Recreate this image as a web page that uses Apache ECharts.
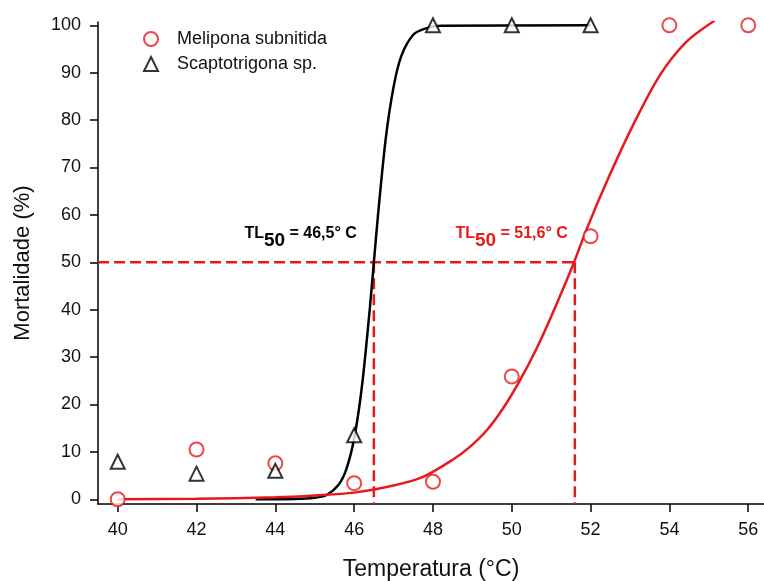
<!DOCTYPE html>
<html><head><meta charset="utf-8">
<script src="https://cdn.jsdelivr.net/npm/echarts@6/dist/echarts.min.js"></script>
<style>html,body{margin:0;padding:0;background:#fff}#c{width:764px;height:581px}</style>
</head><body><div id="c"></div>
<script>
// Observed data
const temps = [40, 42, 44, 46, 48, 50, 52, 54, 56];
const meliponaMort = [0, 10.5, 7.6, 3.4, 3.7, 25.9, 55.5, 100, 100];
const scaptoTemps = [40, 42, 44, 46, 48, 50, 52];
const scaptoMort = [7.9, 5.4, 6.0, 13.5, 100, 100, 100];
// Fitted curves
const scaptoCurveX = [43.5, 44.5, 45, 45.3, 45.6, 45.8, 46, 46.2, 46.4, 46.5, 46.6, 46.8, 47, 47.2, 47.5, 47.8, 48.2, 52];
const scaptoCurveY = [0, 0.05, 0.3, 0.9, 3, 6.3, 12.8, 24, 40.5, 50, 59.5, 76, 87, 93.6, 98, 99.3, 99.9, 100];
const meliCurveX = [40, 42, 44, 45, 46, 47, 47.72, 48.51, 48.93, 49.36, 49.78, 50.2, 50.63, 51.05, 51.56, 51.9, 52.49, 53.08, 53.76, 54.43, 55.15];
const meliCurveY = [0, 0.1, 0.4, 0.8, 1.4, 2.9, 4.6, 8.4, 11.0, 14.5, 19.2, 25.0, 31.8, 39.5, 49.6, 57.0, 68.5, 79, 89.5, 96.5, 101];
const tl50 = [46.5, 51.6];
const xTicks = [40, 42, 44, 46, 48, 50, 52, 54, 56];
const yTicks = [0, 10, 20, 30, 40, 50, 60, 70, 80, 90, 100];
const seriesNames = ['Melipona subnitida', 'Scaptotrigona sp.'];

const FONT = '"Liberation Sans", Arial, sans-serif';
const RED = '#e8191c';
const XMIN = 39.5, XMAX = 56.4, YMIN = -1, YMAX = 100.7;

const zip = (a, b) => a.map((v, i) => [v, b[i]]);
const dashStyle = {color: RED, width: 2.5, type: [11, 5]};

const chart = echarts.init(document.getElementById('c'));
chart.setOption({
  animation: false,
  backgroundColor: '#fff',
  grid: {left: 98, right: 0, top: 22, bottom: 77, containLabel: false, outerBoundsMode: 'none'},
  legend: {
    orient: 'vertical', left: 138, top: 25, itemWidth: 14, itemHeight: 14, itemGap: 7,
    data: seriesNames,
    textStyle: {fontFamily: FONT, fontSize: 18, color: '#111', padding: [0, 0, 0, 14]}
  },
  xAxis: {
    type: 'value', min: XMIN, max: XMAX,
    name: 'Temperatura (°C)', nameLocation: 'middle', nameGap: 54,
    nameTextStyle: {fontFamily: FONT, fontSize: 23, color: '#111'},
    axisLine: {onZero: false, lineStyle: {color: '#000', width: 1.5}},
    axisTick: {customValues: xTicks, length: 8, lineStyle: {color: '#000', width: 1.5}},
    axisLabel: {customValues: xTicks, fontFamily: FONT, fontSize: 18, color: '#111', margin: 17},
    splitLine: {show: false}
  },
  yAxis: {
    type: 'value', min: YMIN, max: YMAX,
    name: 'Mortalidade (%)', nameLocation: 'middle', nameGap: 64,
    nameTextStyle: {fontFamily: FONT, fontSize: 22, color: '#111'},
    axisLine: {onZero: false, lineStyle: {color: '#000', width: 1.5}},
    axisTick: {customValues: yTicks, length: 8, lineStyle: {color: '#000', width: 1.5}},
    axisLabel: {customValues: yTicks, fontFamily: FONT, fontSize: 18, color: '#111', margin: 17},
    splitLine: {show: false}
  },
  series: [
    {type: 'line', data: [[XMIN, 50], [tl50[1], 50]], symbol: 'none', lineStyle: dashStyle, z: 1, silent: true},
    {type: 'line', data: [[tl50[0], 50], [tl50[0], YMIN]], symbol: 'none', lineStyle: dashStyle, z: 1, silent: true},
    {type: 'line', data: [[tl50[1], 50], [tl50[1], YMIN]], symbol: 'none', lineStyle: dashStyle, z: 1, silent: true},
    {type: 'line', data: zip(scaptoCurveX, scaptoCurveY), symbol: 'none', smooth: 0.3,
     lineStyle: {color: '#000', width: 2.5}, z: 2, silent: true},
    {type: 'line', data: zip(meliCurveX, meliCurveY), symbol: 'none', smooth: 0.3,
     lineStyle: {color: RED, width: 2.5}, z: 3, silent: true},
    {name: seriesNames[0], type: 'scatter', data: zip(temps, meliponaMort), symbol: 'emptyCircle', symbolSize: 14,
     symbolKeepAspect: true, itemStyle: {color: RED, borderColor: RED, borderWidth: 1.6}, z: 4},
    {name: seriesNames[1], type: 'scatter', data: zip(scaptoTemps, scaptoMort), symbol: 'emptyTriangle', symbolSize: 14,
     symbolKeepAspect: true, itemStyle: {color: '#000', borderColor: '#000', borderWidth: 1.6}, z: 4}
  ]
});

const p1 = chart.convertToPixel({gridIndex: 0}, [tl50[0], 50]);
const p2 = chart.convertToPixel({gridIndex: 0}, [tl50[1], 50]);
function tlText(val, color) {
  return {
    text: '{a|TL}{s|50}{a| = ' + val + '° C}',
    fill: color, align: 'right', verticalAlign: 'bottom',
    rich: {
      a: {fontFamily: FONT, fontSize: 16, fontWeight: 'bold', fill: color, padding: [0, 0, 7, 0]},
      s: {fontFamily: FONT, fontSize: 19, fontWeight: 'bold', fill: color, padding: [7, 0, 0, 0]}
    }
  };
}
chart.setOption({
  graphic: [
    {type: 'text', x: p1[0] - 17, y: p1[1] - 12, style: tlText('46,5', '#000')},
    {type: 'text', x: p2[0] - 7, y: p2[1] - 12, style: tlText('51,6', RED)}
  ]
});
</script></body></html>
